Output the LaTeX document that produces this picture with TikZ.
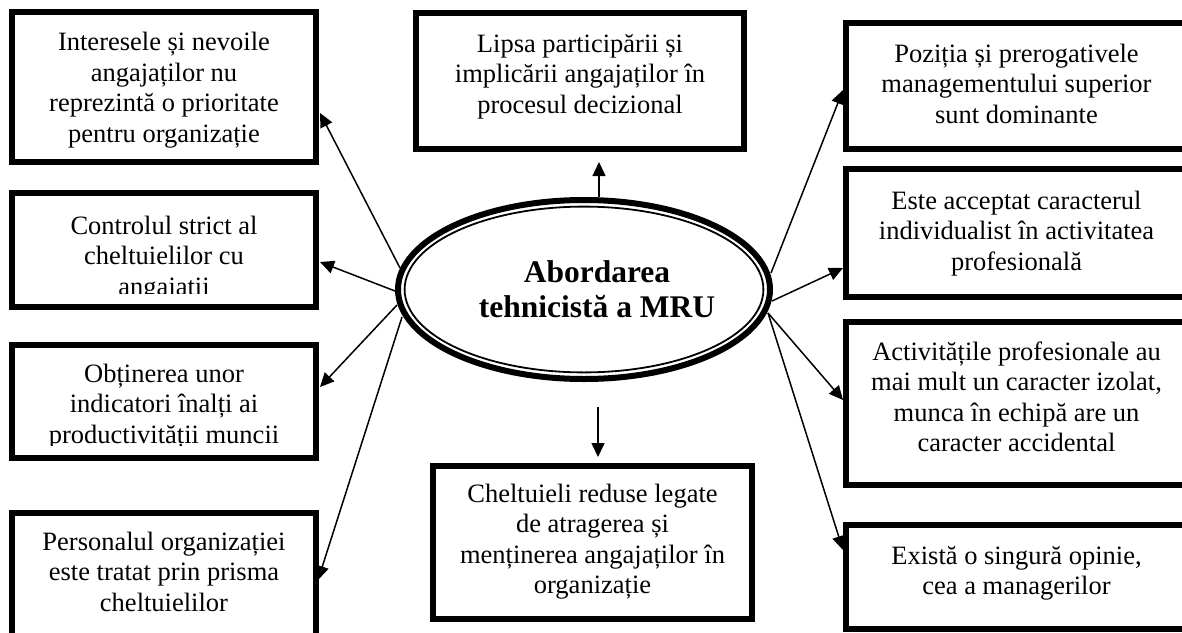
\documentclass[tikz,border=0pt]{standalone}
\usepackage{fontspec}
\setmainfont{Liberation Serif}
\usetikzlibrary{arrows.meta,shapes.geometric}
\newcommand\mybodyfont{\fontsize{26.5}{30.5}\selectfont}
\newcommand\mycenterfont{\fontsize{31.5}{35}\selectfont\bfseries}
\begin{document}
\begin{tikzpicture}[x=1pt,y=-1pt,
  box/.style={draw, line width=6pt, rectangle, inner sep=0pt, outer sep=0pt},
  txt/.style={align=center, inner sep=0pt, anchor=base, font=\mybodyfont},
  arr/.style={line width=1.5pt, -{Triangle[length=14pt,width=13pt]}}]
\path[use as bounding box] (0,0) rectangle (1182,632);
\clip (0,0) rectangle (1182,632);
\fill[white] (0,0) rectangle (1182,632);

% left boxes
\node[box, minimum width=304pt, minimum height=150pt] (L1) at (164,87) {};
\node[box, minimum width=304pt, minimum height=114pt] (L2) at (164,250) {};
\node[box, minimum width=304pt, minimum height=113pt] (L3) at (164,401.5) {};
\node[box, minimum width=304pt, minimum height=127pt] (L4) at (164,576.5) {};
% centre boxes
\node[box, minimum width=328pt, minimum height=136pt] (C1) at (580,81) {};
\node[box, minimum width=319pt, minimum height=153pt] (C2) at (592.5,542.5) {};
% right boxes
\node[box, minimum width=341pt, minimum height=126pt] (R1) at (1016.5,86) {};
\node[box, minimum width=341pt, minimum height=128pt] (R2) at (1016.5,233) {};
\node[box, minimum width=341pt, minimum height=163pt] (R3) at (1016.5,403.5) {};
\node[box, minimum width=341pt, minimum height=104pt] (R4) at (1016.5,577) {};

% texts (base anchor = baseline of the last line)
\node[txt] (tL1) at (164,142) {Interesele și nevoile\\angajaților nu\\reprezintă o prioritate\\pentru organizație};
\begin{scope}
\clip (15,196) rectangle (313,293.5);
\node[txt] (tL2) at (164,295) {Controlul strict al\\cheltuielilor cu\\angajații};
\end{scope}
\begin{scope}
\clip (15,348) rectangle (313,445);
\node[txt] (tL3) at (164,443) {Obținerea unor\\indicatori înalți ai\\productivității muncii};
\end{scope}
\node[txt] (tL4) at (164,611) {Personalul organizației\\este tratat prin prisma\\cheltuielilor};
\node[txt] (tC1) at (580,113) {Lipsa participării și\\implicării angajaților în\\procesul decizional};
\node[txt] (tC2) at (592.5,593.5) {Cheltuieli reduse legate\\de atragerea și\\menținerea angajaților în\\organizație};
\node[txt] (tR1) at (1016.5,123) {Poziția și prerogativele\\managementului superior\\sunt dominante};
\node[txt] (tR2) at (1016.5,270) {Este acceptat caracterul\\individualist în activitatea\\profesională};
\node[txt] (tR3) at (1016.5,451.5) {Activitățile profesionale au\\mai mult un caracter izolat,\\munca în echipă are un\\caracter accidental};
\node[txt] (tR4) at (1016.5,594.5) {Există o singură opinie,\\cea a managerilor};

% central ellipse
\node[ellipse, draw, fill=white, line width=6pt, minimum width=372pt, minimum height=179pt,
      inner sep=0pt, outer sep=0pt] (E) at (584,289.5) {};
\draw[line width=1.8pt] (E.center) ellipse [x radius=179.4pt, y radius=82.9pt];
\node[font=\mycenterfont, align=center, inner sep=0pt, anchor=base] (T) at (597,317)
  {Abordarea\\tehnicistă a MRU};

% connector end points
\coordinate (sL1) at (400,268); \coordinate (eL1) at (320,113);
\coordinate (sL2) at (395,291); \coordinate (eL2) at (320,262);
\coordinate (sL3) at (397,305); \coordinate (eL3) at (320,387);
\coordinate (sL4) at (402,317); \coordinate (eL4) at (318,580);
\coordinate (sC1) at (599,197); \coordinate (eC1) at (599,162);
\coordinate (sC2) at (598,407); \coordinate (eC2) at (598,457);
\coordinate (sR1) at (771,273); \coordinate (eR1) at (843,90);
\coordinate (sR2) at (772,301); \coordinate (eR2) at (843,268);
\coordinate (sR3) at (768,313); \coordinate (eR3) at (843,400);
\coordinate (sR4) at (768,313); \coordinate (eR4) at (843,550);

\draw[arr] (sL1) -- (eL1);
\draw[arr] (sL2) -- (eL2);
\draw[arr] (sL3) -- (eL3);
\draw[arr] (sL4) -- (eL4);
\draw[arr] (sC1) -- (eC1);
\draw[arr] (sC2) -- (eC2);
\draw[arr] (sR1) -- (eR1);
\draw[arr] (sR2) -- (eR2);
\draw[arr] (sR3) -- (eR3);
\draw[arr] (sR4) -- (eR4);
\end{tikzpicture}
\end{document}
